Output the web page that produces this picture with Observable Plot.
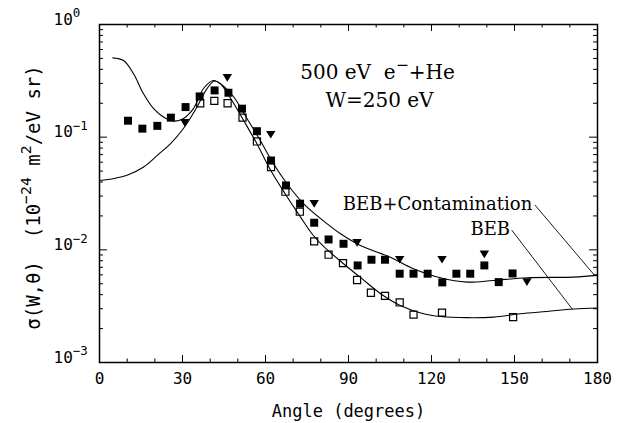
<!DOCTYPE html>
<html><head><meta charset="utf-8">
<script src="https://cdn.jsdelivr.net/npm/d3@7"></script>
<script src="https://cdn.jsdelivr.net/npm/@observablehq/plot@0.6"></script>
<style>html,body{margin:0;padding:0;background:#fff} svg{display:block}</style>
</head><body><div id="chart"></div>
<script>
// ---- data ----
const bebAngle = [0, 5.3, 10.4, 15.8, 21.2, 25.6, 30.4, 35.2, 38.8, 41.5, 43.6, 47.2, 52.1, 56.9, 61.7, 67.1, 72.5, 77.3, 81.0, 88.2, 94.3, 101.5, 108.7, 117.1, 123.2, 132.8, 142.4, 152.1, 161.7, 171.4, 180];
const bebValue = [0.0413, 0.0430, 0.0464, 0.0540, 0.0700, 0.0871, 0.1200, 0.1846, 0.2687, 0.3152, 0.2994, 0.2251, 0.1406, 0.0874, 0.0517, 0.0315, 0.0198, 0.0134, 0.01072, 0.00753, 0.00569, 0.00410, 0.00321, 0.00271, 0.00256, 0.00250, 0.00253, 0.00271, 0.00284, 0.00298, 0.00305];

const contAngle = [4.8, 8.7, 12.3, 15.9, 19.5, 23.1, 26.8, 30.4, 34.0, 37.6, 41.2, 44.3, 48.4, 53.3, 58.1, 62.9, 67.8, 73.8, 82.2, 87.0, 94.3, 105.1, 113.5, 123.2, 132.8, 142.4, 154.5, 171.4, 180];
const contValue = [0.506, 0.479, 0.365, 0.243, 0.180, 0.151, 0.139, 0.1466, 0.180, 0.2705, 0.3186, 0.2904, 0.2297, 0.1466, 0.0935, 0.0581, 0.0386, 0.0256, 0.0171, 0.01397, 0.01094, 0.00861, 0.00680, 0.00565, 0.00517, 0.00535, 0.00565, 0.00573, 0.00593];

const filledAngle = [10.3, 15.5, 20.9, 25.8, 31.1, 36.2, 41.6, 46.6, 51.5, 56.9, 62.0, 67.4, 72.5, 77.6, 82.8, 88.2, 93.3, 98.3, 103.2, 108.5, 113.5, 118.6, 123.9, 129.0, 134.0, 139.1, 144.3, 149.3];
const filledValue = [0.140, 0.119, 0.126, 0.149, 0.185, 0.230, 0.260, 0.248, 0.179, 0.113, 0.0621, 0.0373, 0.0257, 0.0174, 0.01236, 0.01132, 0.00727, 0.00817, 0.00817, 0.00614, 0.00614, 0.00614, 0.00514, 0.00614, 0.00614, 0.00727, 0.00517, 0.00617];

const openAngle = [36.4, 41.5, 46.3, 51.7, 56.9, 62.0, 67.2, 72.4, 77.6, 82.8, 88.0, 93.1, 98.1, 103.2, 108.5, 113.5, 123.8, 149.5];
const openValue = [0.200, 0.210, 0.200, 0.149, 0.0916, 0.0542, 0.0328, 0.0218, 0.01188, 0.00905, 0.00762, 0.0054, 0.00416, 0.0039, 0.00341, 0.00266, 0.00277, 0.00253];

const triAngle = [30.8, 46.2, 61.9, 77.6, 93.1, 108.5, 123.8, 139.1, 154.5];
const triValue = [0.134, 0.336, 0.105, 0.0256, 0.01154, 0.00817, 0.00817, 0.0091, 0.00517];

const leaderContAngle = [157.5, 178.8];
const leaderContValue = [0.0248, 0.0060];
const leaderBebAngle = [149.1, 170.8];
const leaderBebValue = [0.01486, 0.0030];

const curveLabels = ["BEB+Contamination", "BEB"];
const titleLines = ["500 eV\u00a0 e^{\u2212}+He", "W=250 eV"];
const xTickLabels = [0, 30, 60, 90, 120, 150, 180];
const yTickValues = [1e-3, 1e-2, 1e-1, 1];
const yTickExponents = ["\u22123", "\u22122", "\u22121", "0"];
const xMinorTicks = [10, 20, 40, 50, 70, 80, 100, 110, 130, 140, 160, 170];
const xLabel = "Angle (degrees)";
const yLabel = "\u03c3(W,\u03b8)\u00a0\u00a0(10^{\u221224}\u00a0m^{2}/eV\u00a0sr)";

// ---- tables ----
const zip = (a, b) => a.map((x, i) => ({x, y: b[i]}));
const beb = zip(bebAngle, bebValue);
const cont = zip(contAngle, contValue);
const filled = zip(filledAngle, filledValue);
const open = zip(openAngle, openValue);
const tri = zip(triAngle, triValue);
const leaderCont = zip(leaderContAngle, leaderContValue);
const leaderBeb = zip(leaderBebAngle, leaderBebValue);
const yMinorTicks = d3.range(-3, 0).flatMap(e => d3.range(2, 10).map(m => m * Math.pow(10, e)));
const yTicks = yTickValues.map((v, i) => ({v, label: "10^{" + yTickExponents[i] + "}"}));

const triangleDown = {
  draw(ctx, size) {
    const r = Math.sqrt(size / Math.PI);
    ctx.moveTo(-1.05 * r, -0.85 * r);
    ctx.lineTo(1.05 * r, -0.85 * r);
    ctx.lineTo(0, 0.85 * r);
    ctx.closePath();
  }
};

const mono = "DejaVu Sans Mono";
const serif = "DejaVu Serif";
const W = 629, H = 423, mL = 99, mR = 32, mT = 24, mB = 61;
const pw = W - mL - mR, ph = H - mT - mB;

const svg = Plot.plot({
  width: W, height: H,
  marginLeft: mL, marginRight: mR, marginTop: mT, marginBottom: mB,
  style: {background: "#fff", color: "#000", overflow: "visible"},
  x: {domain: [0, 180], axis: null},
  y: {type: "log", domain: [1e-3, 1], axis: null},
  marks: [
    // inward ticks
    Plot.tickX(xTickLabels, {x: d => d, insetTop: ph - 7, stroke: "#000", strokeWidth: 1}),
    Plot.tickX(xTickLabels, {x: d => d, insetBottom: ph - 7, stroke: "#000", strokeWidth: 1}),
    Plot.tickX(xMinorTicks, {x: d => d, insetTop: ph - 3.5, stroke: "#000", strokeWidth: 1}),
    Plot.tickX(xMinorTicks, {x: d => d, insetBottom: ph - 3.5, stroke: "#000", strokeWidth: 1}),
    Plot.tickY(yTickValues, {y: d => d, insetRight: pw - 8, stroke: "#000", strokeWidth: 1}),
    Plot.tickY(yTickValues, {y: d => d, insetLeft: pw - 8, stroke: "#000", strokeWidth: 1}),
    Plot.tickY(yMinorTicks, {y: d => d, insetRight: pw - 4, stroke: "#000", strokeWidth: 1}),
    Plot.tickY(yMinorTicks, {y: d => d, insetLeft: pw - 4, stroke: "#000", strokeWidth: 1}),
    Plot.frame({stroke: "#000", strokeWidth: 1.5}),
    // curves
    Plot.line(beb, {x: "x", y: "y", curve: "catmull-rom", stroke: "#000", strokeWidth: 1.1}),
    Plot.line(cont, {x: "x", y: "y", curve: "catmull-rom", stroke: "#000", strokeWidth: 1.1}),
    // leaders
    Plot.line(leaderCont, {x: "x", y: "y", stroke: "#000", strokeWidth: 0.9}),
    Plot.line(leaderBeb, {x: "x", y: "y", stroke: "#000", strokeWidth: 0.9}),
    // data points
    Plot.dot(open, {x: "x", y: "y", symbol: "square", r: 4.0, fill: "none", stroke: "#000", strokeWidth: 1.2}),
    Plot.dot(filled, {x: "x", y: "y", symbol: "square", r: 4.5, fill: "#000", stroke: "none"}),
    Plot.dot(tri, {x: "x", y: "y", symbol: triangleDown, r: 4.5, fill: "#000", stroke: "none"}),
    // curve labels
    Plot.text([leaderCont[0]], {x: "x", y: "y", text: () => curveLabels[0], textAnchor: "end", dx: -3, dy: -1, fontFamily: serif, fontSize: 18, fill: "#000"}),
    Plot.text([leaderBeb[0]], {x: "x", y: "y", text: () => curveLabels[1], textAnchor: "end", dx: -2, dy: -1, fontFamily: serif, fontSize: 18, fill: "#000"}),
    // title
    Plot.text([titleLines[0]], {text: d => d, frameAnchor: "top", textAnchor: "middle", dx: 29, dy: 40, fontFamily: serif, fontSize: 20, fill: "#000"}),
    Plot.text([titleLines[1]], {text: d => d, frameAnchor: "top", textAnchor: "middle", dx: 31, dy: 68, fontFamily: serif, fontSize: 20, fill: "#000"}),
    // tick labels
    Plot.text(xTickLabels, {x: d => d, text: d => String(d), frameAnchor: "bottom", textAnchor: "middle", lineAnchor: "bottom", dy: 21, fontFamily: mono, fontSize: 16, fill: "#000"}),
    Plot.text(yTicks, {y: "v", text: "label", frameAnchor: "left", textAnchor: "start", dx: -46, dy: -5, fontFamily: mono, fontSize: 16, fill: "#000"}),
    // axis labels
    Plot.text([xLabel], {text: d => d, frameAnchor: "bottom", textAnchor: "middle", lineAnchor: "bottom", dy: 54, fontFamily: mono, fontSize: 17, fill: "#000"}),
    Plot.text([yLabel], {text: d => d, frameAnchor: "left", textAnchor: "middle", rotate: -90, dx: -66, dy: 4, fontFamily: mono, fontSize: 19, fill: "#000"})
  ]
});

document.getElementById("chart").appendChild(svg);

// superscripts as real tspans
d3.select(svg).selectAll("text").each(function() {
  const t = this.textContent;
  if (!t.includes("^{")) return;
  const fs = parseFloat(getComputedStyle(this).fontSize) || 16;
  const parts = t.split(/(\^\{[^}]*\})/).filter(s => s.length);
  const el = d3.select(this);
  el.text(null);
  let raised = false;
  for (const p of parts) {
    const m = p.match(/^\^\{([^}]*)\}$/);
    const ts = el.append("tspan");
    if (m) {
      ts.text(m[1]).attr("font-size", fs * 0.78).attr("dy", -fs * 0.45);
      raised = true;
    } else {
      ts.text(p);
      if (raised) { ts.attr("dy", fs * 0.45); raised = false; }
    }
  }
});
</script>
</body></html>
